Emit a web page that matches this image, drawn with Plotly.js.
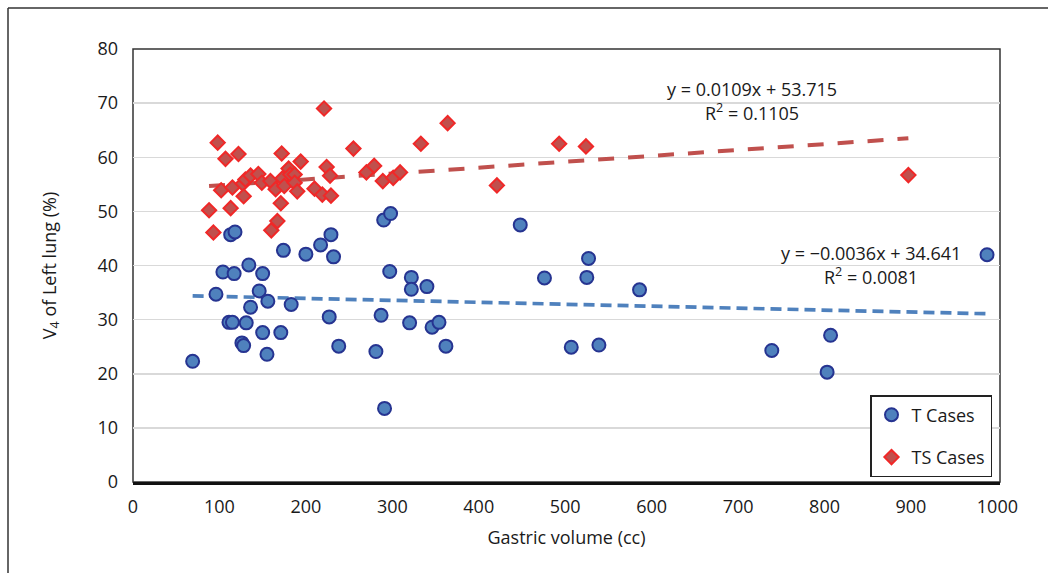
<!DOCTYPE html>
<html>
<head>
<meta charset="utf-8">
<script src="https://cdn.plot.ly/plotly-3.0.1.min.js"></script>
<style>html,body{margin:0;padding:0;background:#fff;}#chart{width:1048px;height:573px;}</style>
</head>
<body>
<div id="chart"></div>
<script>
// ---- Data ----
const seriesNames = ["T Cases", "TS Cases"];

const tCasesX = [69, 96, 104, 113, 118, 117, 134, 150, 146, 156, 136, 111, 115, 131, 150, 171, 126, 128, 155,
  174, 200, 217, 229, 232, 183, 227, 287, 320, 346, 354, 238, 281, 362, 291, 290, 298, 297, 322, 322, 340,
  448, 527, 525, 476, 586, 507, 539, 988, 807, 739, 803];
const tCasesY = [22.3, 34.7, 38.8, 45.7, 46.2, 38.5, 40.1, 38.5, 35.3, 33.4, 32.3, 29.5, 29.5, 29.4, 27.6, 27.6, 25.7, 25.2, 23.6,
  42.8, 42.1, 43.8, 45.7, 41.6, 32.8, 30.5, 30.8, 29.4, 28.6, 29.5, 25.1, 24.1, 25.1, 13.6, 48.4, 49.6, 38.9, 37.8, 35.6, 36.1,
  47.5, 41.3, 37.8, 37.7, 35.5, 24.9, 25.3, 42.0, 27.1, 24.3, 20.3];

const tsCasesX = [88, 93, 98, 102, 107, 113, 115, 122, 127, 128, 130, 136, 145, 149, 159, 160, 165, 167, 171, 172,
  173, 175, 180, 182, 187, 187, 190, 194, 210, 219, 221, 224, 228, 229, 255, 270, 279, 289, 301, 309,
  333, 364, 421, 493, 524, 897];
const tsCasesY = [50.2, 46.1, 62.7, 53.9, 59.7, 50.6, 54.4, 60.6, 55.1, 52.8, 55.9, 56.6, 56.9, 55.3, 55.6, 46.5, 54.1, 48.2, 51.5, 60.7,
  56.1, 54.7, 57.9, 56.8, 56.8, 55.3, 53.7, 59.2, 54.2, 53.1, 69.0, 58.2, 56.6, 52.9, 61.6, 57.2, 58.4, 55.6, 56.2, 57.2,
  62.5, 66.3, 54.8, 62.5, 62.0, 56.7];

// Linear trendline coefficients as printed on the chart
const trendSlopes = [-0.0036, 0.0109];
const trendIntercepts = [34.641, 53.715];
const trendR2 = ["0.0081", "0.1105"];

const xTicks = [0, 100, 200, 300, 400, 500, 600, 700, 800, 900, 1000];
const yTicks = [0, 10, 20, 30, 40, 50, 60, 70, 80];

// ---- Styling ----
const FONT = "Open Sans, Noto Sans, sans-serif";
const TXT = "#1a1a1a";
const blueFill = "rgb(79,129,189)", blueEdge = "rgb(38,52,145)";
const redFill = "rgb(192,80,77)", redEdge = "rgb(240,40,40)";

function trend(xs, i) {
  const x0 = Math.min(...xs), x1 = Math.max(...xs);
  return { x: [x0, x1], y: [trendSlopes[i] * x0 + trendIntercepts[i], trendSlopes[i] * x1 + trendIntercepts[i]] };
}
function eqLine(i) {
  const s = trendSlopes[i];
  const sTxt = (s < 0 ? "\u2212" : "") + Math.abs(s).toFixed(4);
  return "y = " + sTxt + "x + " + trendIntercepts[i].toFixed(3);
}
function r2Line(i) {
  return "R<sup>2</sup> = " + trendR2[i];
}

const tTrend = trend(tCasesX, 0);
const tsTrend = trend(tsCasesX, 1);

const traces = [
  { x: tTrend.x, y: tTrend.y, mode: "lines", showlegend: false, hoverinfo: "skip",
    line: { color: blueFill, width: 3.7, dash: "11px,6px" } },
  { x: tsTrend.x, y: tsTrend.y, mode: "lines", showlegend: false, hoverinfo: "skip",
    line: { color: redFill, width: 4, dash: "16px,14px" } },
  { x: tCasesX, y: tCasesY, mode: "markers", name: seriesNames[0], legendgroup: "a",
    marker: { symbol: "circle", size: 13, color: blueFill, line: { color: blueEdge, width: 2 } } },
  { x: tsCasesX, y: tsCasesY, mode: "markers", name: seriesNames[1], legendgroup: "b",
    marker: { symbol: "diamond", size: 11, color: redFill, line: { color: redEdge, width: 2 } } }
];

const plotL = 133, plotR = 48, plotT = 49, plotB = 91;
const W = 1048, H = 573;
const pw = W - plotL - plotR, ph = H - plotT - plotB;
const fx = (px) => (px - plotL) / pw;
const fy = (py) => (H - plotB - py) / ph;

const annFont = { family: FONT, size: 18, color: TXT };
function ann(text, px, py) {
  return { text: text, xref: "paper", yref: "paper", x: fx(px), y: fy(py), xanchor: "center", yanchor: "middle",
    showarrow: false, align: "center", font: annFont };
}

const layout = {
  width: W, height: H,
  margin: { l: plotL, r: plotR, t: plotT, b: plotB, pad: 0 },
  paper_bgcolor: "#fff", plot_bgcolor: "#fff",
  font: { family: FONT, color: TXT, size: 17 },
  showlegend: true,
  legend: {
    x: fx(870), y: fy(395), xanchor: "left", yanchor: "top",
    bgcolor: "#fff", bordercolor: "#222", borderwidth: 1.5,
    font: { family: FONT, size: 18, color: TXT },
    traceorder: "grouped", tracegroupgap: 16
  },
  xaxis: {
    range: [0, 1003], tickvals: xTicks, ticktext: xTicks.map(String),
    showgrid: false, zeroline: false,
    showline: true, linecolor: "#111", linewidth: 2.5,
    ticks: "", ticklabelstandoff: 7,
    tickfont: { family: FONT, size: 18, color: TXT },
    title: { text: "Gastric volume (cc)", standoff: 15, font: { family: FONT, size: 18, color: TXT } },
    fixedrange: true
  },
  yaxis: {
    range: [0, 80], tickvals: yTicks, ticktext: yTicks.map(String),
    showgrid: true, gridcolor: "rgb(217,217,217)", gridwidth: 1.5, zeroline: false,
    showline: false, ticks: "", ticklabelstandoff: 14,
    tickfont: { family: FONT, size: 18, color: TXT },
    title: { text: "V<sub>4</sub> of Left lung (%)", standoff: 36, font: { family: FONT, size: 18, color: TXT } },
    fixedrange: true
  },
  shapes: [
    { type: "rect", xref: "paper", yref: "paper", x0: 0, x1: 1, y0: 0, y1: 1,
      line: { color: "#333", width: 1.5 }, layer: "below" },
    { type: "line", xref: "paper", yref: "paper", x0: fx(8), x1: fx(1100), y0: fy(8), y1: fy(8),
      line: { color: "#333", width: 1.5 } },
    { type: "line", xref: "paper", yref: "paper", x0: fx(8), x1: fx(8), y0: fy(8), y1: fy(620),
      line: { color: "#333", width: 1.5 } }
  ],
  annotations: [
    ann(eqLine(1), 752, 89),
    ann(r2Line(1), 752, 112),
    ann(eqLine(0), 871, 253),
    ann(r2Line(0), 871, 276)
  ]
};

Plotly.newPlot("chart", traces, layout, { displayModeBar: false, staticPlot: true });
</script>
</body>
</html>
